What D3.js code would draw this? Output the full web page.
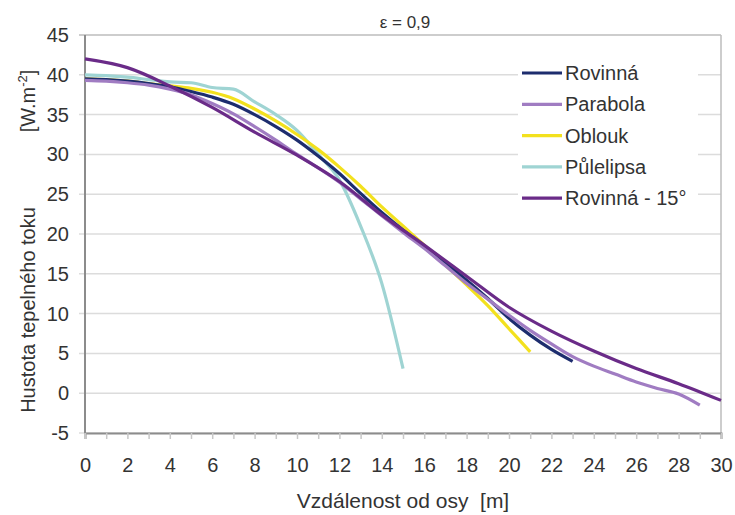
<!DOCTYPE html>
<html>
<head>
<meta charset="utf-8">
<script src="https://cdn.jsdelivr.net/npm/d3@7"></script>
<style>
  body { margin: 0; background: #fff; }
  text { font-family: "Liberation Sans", Arial, sans-serif; fill: #333; }
</style>
</head>
<body>
<div id="chart"></div>
<script>
// series names and colours
var seriesNames  = ["Půlelipsa", "Oblouk", "Rovinná", "Parabola", "Rovinná - 15°"];
var legendOrder  = ["Rovinná", "Parabola", "Oblouk", "Půlelipsa", "Rovinná - 15°"];
var seriesColors = {
  "Rovinná": "#1d2d6e",
  "Parabola": "#a07cc2",
  "Oblouk": "#f3e11e",
  "Půlelipsa": "#9fd4d3",
  "Rovinná - 15°": "#6a2b88"
};

// distance from axis [m]
var xPulelipsa = [0,1,2,3,4,5,6,7,8,9,10,11,12,13,14,15];
var yPulelipsa = [40.0,39.9,39.7,39.4,39.1,39.0,38.4,38.2,36.6,35.0,33.0,30.0,26.8,21.0,13.8,3.1];

var xOblouk = [0,1,2,3,4,5,6,7,8,9,10,11,12,13,14,15,16,17,18,19,20,21];
var yOblouk = [39.5,39.4,39.2,38.9,38.6,38.3,37.8,37.0,35.7,34.2,32.5,30.6,28.4,26.0,23.4,21.0,18.6,16.1,13.6,11.0,8.1,5.2];

var xRovinna = [0,1,2,3,4,5,6,7,8,9,10,11,12,13,14,15,16,17,18,19,20,21,22,23];
var yRovinna = [39.5,39.4,39.2,38.9,38.5,37.9,37.2,36.3,35.0,33.5,31.8,29.8,27.6,25.1,22.7,20.5,18.5,16.4,14.2,11.9,9.4,7.3,5.5,4.0];

var xParabola = [0,1,2,3,4,5,6,7,8,9,10,11,12,13,14,15,16,17,18,19,20,21,22,23,24,25,26,27,28,29];
var yParabola = [39.3,39.2,39.0,38.7,38.2,37.5,36.4,35.1,33.5,31.8,30.0,28.3,26.5,24.4,22.3,20.2,18.2,16.0,13.8,11.8,9.8,7.9,6.2,4.6,3.4,2.4,1.4,0.6,-0.1,-1.5];

var xRovinna15 = [0,2,4,6,8,10,12,14,16,18,20,22,24,26,28,30];
var yRovinna15 = [42.0,40.9,38.6,35.9,32.8,29.9,26.6,22.4,18.6,14.7,10.8,7.8,5.3,3.1,1.2,-0.9];

var seriesX = {"Půlelipsa": xPulelipsa, "Oblouk": xOblouk, "Rovinná": xRovinna, "Parabola": xParabola, "Rovinná - 15°": xRovinna15};
var seriesY = {"Půlelipsa": yPulelipsa, "Oblouk": yOblouk, "Rovinná": yRovinna, "Parabola": yParabola, "Rovinná - 15°": yRovinna15};

var xTicks = d3.range(0, 31, 2);
var yTicks = d3.range(-5, 46, 5);

var width = 735, height = 515;
var margin = {top: 35, right: 14, bottom: 82, left: 85};
var innerW = width - margin.left - margin.right,
    innerH = height - margin.top - margin.bottom;

var svg = d3.select("#chart").append("svg")
  .attr("width", width)
  .attr("height", height);

var g = svg.append("g")
  .attr("transform", "translate(" + margin.left + "," + margin.top + ")");

var x = d3.scaleLinear().domain([0, 30]).range([0, innerW]);
var y = d3.scaleLinear().domain([-5, 45]).range([innerH, 0]);

// Gridlines
g.selectAll(".grid")
  .data(yTicks)
  .enter().append("line")
  .attr("x1", -6).attr("x2", innerW)
  .attr("y1", function(d){ return y(d); })
  .attr("y2", function(d){ return y(d); })
  .attr("stroke", function(d){ return d == 45 ? "#bdbdbd" : "#dcdcdc"; })
  .attr("stroke-width", 1.5);

// right border
g.append("line")
  .attr("x1", innerW).attr("x2", innerW)
  .attr("y1", 0).attr("y2", innerH)
  .attr("stroke", "#bdbdbd").attr("stroke-width", 1.5);

// Y axis (plain hyphen for negatives, like the original)
var yAxis = d3.axisLeft(y).tickValues(yTicks).tickSize(0).tickPadding(16)
  .tickFormat(function(d){ return String(d); });
g.append("g").call(yAxis)
  .call(function(s){ s.select(".domain").remove(); })
  .selectAll("text")
  .style("font-size", "20px")
  .attr("fill", "#333");

g.append("line")
  .attr("x1", 0).attr("x2", 0)
  .attr("y1", 0).attr("y2", innerH)
  .attr("stroke", "#8c8c8c").attr("stroke-width", 2);

// X axis
var xAxis = d3.axisBottom(x).ticks(30).tickSize(6)
  .tickFormat(function(d){ return d % 2 == 0 ? d : ""; });
var xg = g.append("g")
  .attr("transform", "translate(0," + innerH + ")")
  .call(xAxis);
xg.select(".domain").attr("stroke", "#8c8c8c").attr("stroke-width", 2);
xg.selectAll(".tick line").attr("stroke", "#c8c8c8").attr("stroke-width", 1.5);
xg.selectAll("text")
  .attr("y", 25)
  .style("font-size", "20px")
  .attr("fill", "#333");

// Lines
var line = d3.line()
  .x(function(d){ return x(d[0]); })
  .y(function(d){ return y(d[1]); })
  .curve(d3.curveMonotoneX);

seriesNames.forEach(function(name){
  var pts = seriesX[name].map(function(v, i){ return [v, seriesY[name][i]]; });
  g.append("path")
    .attr("d", line(pts))
    .attr("fill", "none")
    .attr("stroke", seriesColors[name])
    .attr("stroke-width", 3.2)
    .attr("stroke-linejoin", "round");
});

// Legend
var legend = g.append("g").attr("transform", "translate(" + (518 - margin.left) + "," + (58 - margin.top) + ")");
legend.append("rect")
  .attr("width", 180).attr("height", 155)
  .attr("fill", "#fff");

legendOrder.forEach(function(name, i){
  var ly = 15 + i * 31.3;
  legend.append("line")
    .attr("x1", 4).attr("x2", 44)
    .attr("y1", ly).attr("y2", ly)
    .attr("stroke", seriesColors[name])
    .attr("stroke-width", 3.2);
  legend.append("text")
    .attr("x", 47).attr("y", ly + 7)
    .style("font-size", "20px")
    .text(name);
});

// Title
svg.append("text")
  .attr("x", 405).attr("y", 28)
  .attr("text-anchor", "middle")
  .style("font-size", "17px")
  .text("ε = 0,9");

// Axis labels
svg.append("text")
  .attr("x", 403).attr("y", 508)
  .attr("text-anchor", "middle")
  .style("font-size", "21px")
  .style("white-space", "pre")
  .text("Vzdálenost od osy  [m]");

svg.append("text")
  .attr("text-anchor", "middle")
  .attr("transform", "translate(35,310)rotate(-90)")
  .style("font-size", "20px")
  .text("Hustota tepelného toku");

var unit = svg.append("text")
  .attr("text-anchor", "middle")
  .attr("transform", "translate(35,101)rotate(-90)")
  .style("font-size", "20px");
unit.append("tspan").text("[W.m");
unit.append("tspan").attr("dy", -8).style("font-size", "13px").text("-2");
unit.append("tspan").attr("dy", 8).text("]");
</script>
</body>
</html>
